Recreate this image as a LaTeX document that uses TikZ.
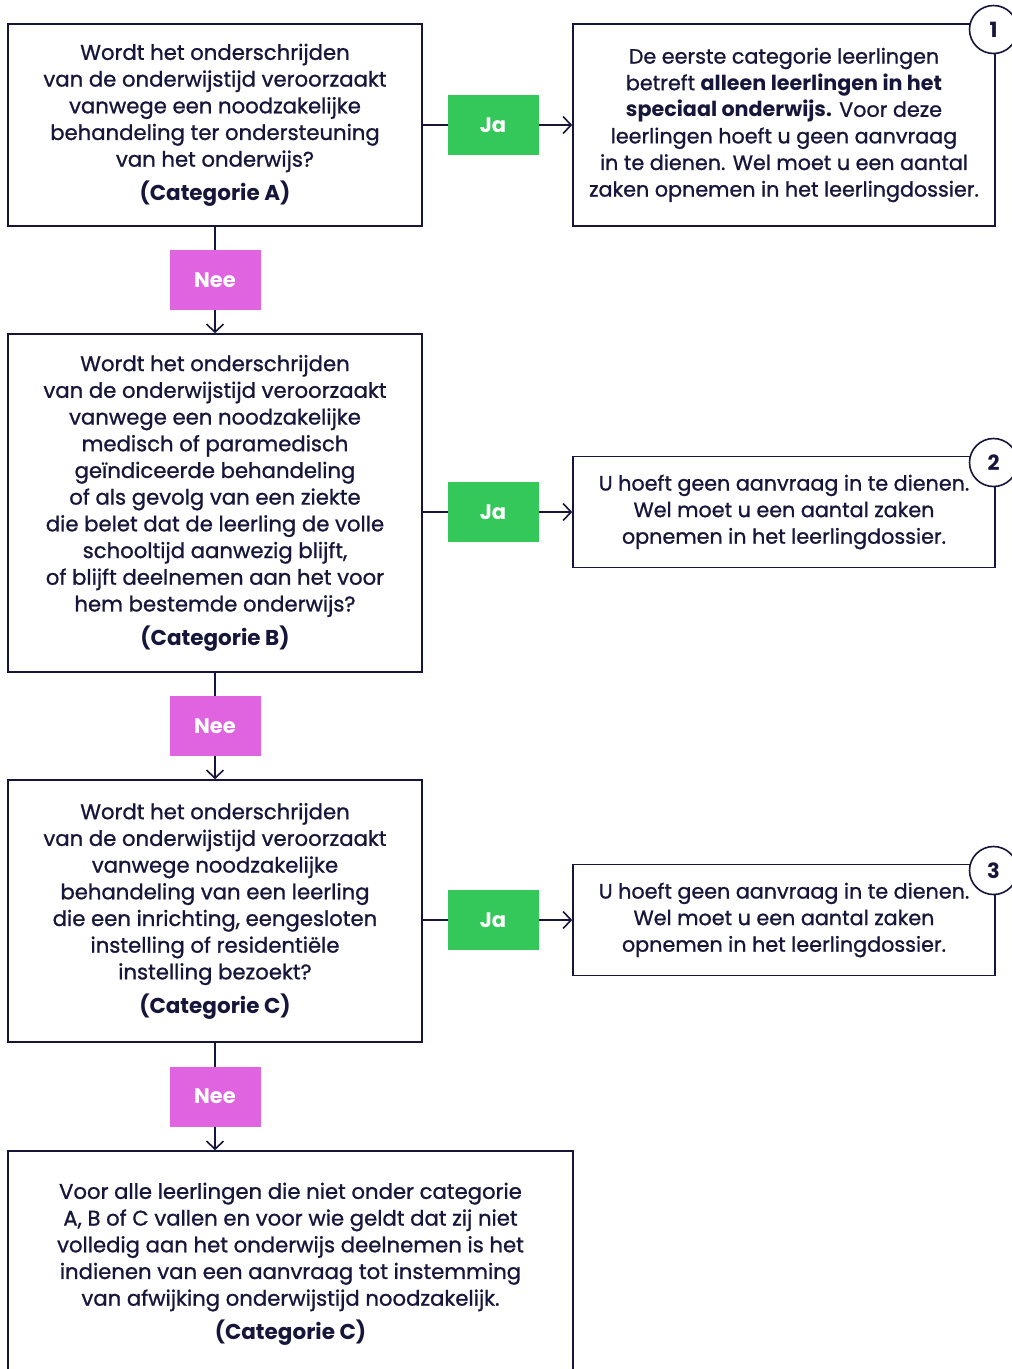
\documentclass[tikz,border=0pt]{standalone}
\usepackage{fontspec}
\setmainfont{Poppins}[FakeBold=1.0,BoldFeatures={FakeBold=0}]
\usetikzlibrary{arrows.meta}
\definecolor{navy}{HTML}{16163A}
\definecolor{jagreen}{HTML}{34C759}
\definecolor{neepink}{HTML}{E063DF}
\newcommand{\catline}[1]{{\bfseries\fontsize{21.5}{26}\selectfont #1}}
\tikzset{
  box/.style={draw=navy,line width=1.6pt,rectangle,inner sep=0pt,align=center,text=navy,
    font=\fontsize{21.2}{26.7}\selectfont},
  rbox/.style={box,font=\fontsize{20.7}{26.6}\selectfont},
  ja/.style={fill=jagreen,text=white,minimum width=91pt,minimum height=60pt,inner sep=0pt,
    font=\fontsize{21}{24}\selectfont\bfseries},
  nee/.style={fill=neepink,text=white,minimum width=91pt,minimum height=60pt,inner sep=0pt,
    font=\fontsize{21}{24}\selectfont\bfseries},
  conn/.style={draw=navy,line width=1.6pt,-{Straight Barb[length=8pt,width=17pt,line width=1.6pt]}},
  badge/.style={circle,draw=navy,fill=white,line width=1.6pt,minimum size=48pt,inner sep=0pt,
    text=navy,font=\fontsize{21}{24}\selectfont\bfseries}
}
\begin{document}
\begin{tikzpicture}[x=1pt,y=-1pt]
\useasboundingbox (0,0) rectangle (1012,1369);
\clip (0,0) rectangle (1012,1369);
\fill[white] (0,0) rectangle (1012,1369);

% Question boxes
\node[box,minimum width=414pt,minimum height=202pt] (A) at (215,125)
 {Wordt het onderschrijden\\van de onderwijstijd veroorzaakt\\vanwege een noodzakelijke\\behandeling ter ondersteuning\\van het onderwijs?\\[7pt]\catline{(Categorie A)}};
\node[box,minimum width=414pt,minimum height=338pt] (B) at (215,503)
 {Wordt het onderschrijden\\van de onderwijstijd veroorzaakt\\vanwege een noodzakelijke\\medisch of paramedisch\\geïndiceerde behandeling\\of als gevolg van een ziekte\\die belet dat de leerling de volle\\schooltijd aanwezig blijft,\\of blijft deelnemen aan het voor\\hem bestemde onderwijs?\\[7pt]\catline{(Categorie B)}};
\node[box,minimum width=414pt,minimum height=262pt] (C) at (215,911)
 {Wordt het onderschrijden\\van de onderwijstijd veroorzaakt\\vanwege noodzakelijke\\behandeling van een leerling\\die een inrichting, eengesloten\\instelling of residentiële\\instelling bezoekt?\\[7pt]\catline{(Categorie C)}};
\node[box,minimum width=565pt,minimum height=226pt] (D) at (290.5,1264)
 {Voor alle leerlingen die niet onder categorie\\A, B of C vallen en voor wie geldt dat zij niet\\volledig aan het onderwijs deelnemen is het\\indienen van een aanvraag tot instemming\\van afwijking onderwijstijd noodzakelijk.\\[7pt]\catline{(Categorie C)}};

% Outcome boxes
\node[rbox,minimum width=422pt,minimum height=202pt] (R1) at (784,125)
 {De eerste categorie leerlingen\\betreft \textbf{alleen leerlingen in het}\\\textbf{speciaal onderwijs.} Voor deze\\leerlingen hoeft u geen aanvraag\\in te dienen. Wel moet u een aantal\\zaken opnemen in het leerlingdossier.};
\node[rbox,minimum width=422pt,minimum height=111pt] (R2) at (784,512)
 {U hoeft geen aanvraag in te dienen.\\Wel moet u een aantal zaken\\opnemen in het leerlingdossier.};
\node[rbox,minimum width=422pt,minimum height=111pt] (R3) at (784,920)
 {U hoeft geen aanvraag in te dienen.\\Wel moet u een aantal zaken\\opnemen in het leerlingdossier.};

% Badges
\node[badge] (b1) at (993.5,29.5) {1};
\node[badge] (b2) at (993.5,462.5) {2};
\node[badge] (b3) at (993.5,870.5) {3};

% Connectors
\draw[conn] (A.east |- R1.west) -- node[ja,pos=0.47] (ja1) {Ja} (R1.west);
\draw[conn] (B.east |- R2.west) -- node[ja,pos=0.47] (ja2) {Ja} (R2.west);
\draw[conn] (C.east |- R3.west) -- node[ja,pos=0.47] (ja3) {Ja} (R3.west);
\draw[conn] (A.south) -- node[nee] (nee1) {Nee} (B.north);
\draw[conn] (B.south) -- node[nee] (nee2) {Nee} (C.north);
\draw[conn] (C.south) -- node[nee] (nee3) {Nee} (C.south |- D.north);
\end{tikzpicture}
\end{document}
